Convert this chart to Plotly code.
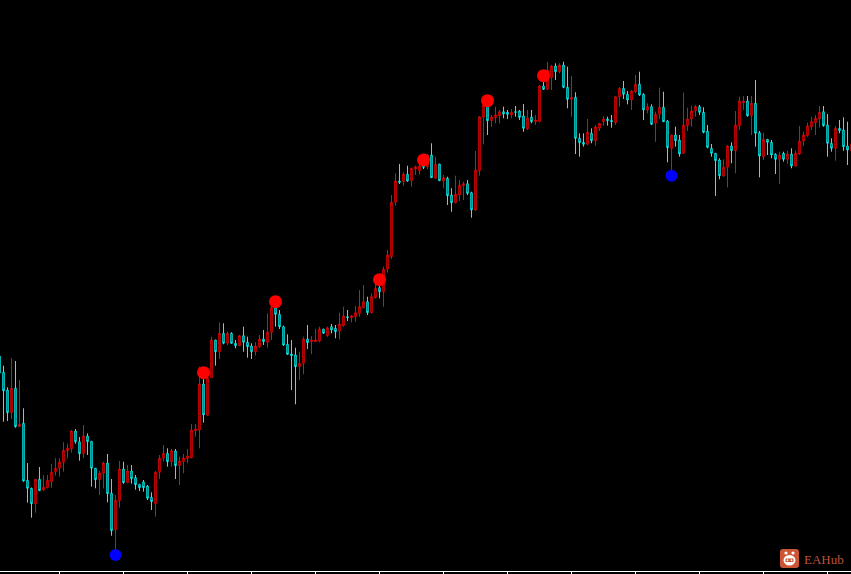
import plotly.graph_objects as go

# bar index (one candle every bar)
bars = list(range(-1, 213))

opens = [218, 201.7, 184, 161.3, 185.7, 147.3, 150.7, 93.7, 85.7, 70.3, 94.7, 84, 86.3, 92.3, 102.3, 105.7, 111.7, 123.3, 125.3, 143, 132.3,
         120.3, 138, 132.7, 105.7, 94.3, 100.7, 111, 80.7, 44.3, 73.3, 105, 91.3, 103, 96.3, 89.7, 92, 88, 76.7, 70.3, 101.7,
         115.7, 120.7, 112.3, 123, 108.3, 112.3, 115.7, 116.3, 143.3, 144, 190, 158.7, 196.3, 234, 222.3, 240.7, 230.7, 240.7, 230.7, 228.3,
         238.3, 231.7, 228, 222.3, 227.3, 235, 231.7, 241.7, 266.3, 259.7, 247.3, 229.7, 220, 219, 207.3, 210.7, 235, 232.3, 232.3, 233,
         245, 238.3, 247.3, 245.7, 243, 248.3, 257.3, 256.3, 257.3, 260.7, 266.3, 272.3, 261.3, 276.3, 286.3, 282.3, 305, 317.3, 371.7, 393,
         392.3, 399.7, 393.3, 405, 403.3, 409, 407.3, 419, 395.7, 410, 393, 395.7, 379, 371.3, 379, 388.3, 390.3, 381.3, 364, 403.3,
         456.7, 469, 453.3, 456.3, 458.3, 462.3, 461.7, 459, 462.3, 463, 458, 445, 457, 452.3, 452.3, 488, 484.7, 496.3, 508, 502.3,
         509, 486.7, 474.7, 476.7, 435.7, 431.7, 429.7, 440.7, 433.3, 445.7, 452.3, 455, 453.7, 451.3, 477.3, 485.7, 479.7, 474, 482.3, 489.7,
         479.7, 464, 467.3, 450.7, 459.7, 466.7, 453, 425.7, 439, 434, 420.7, 448.3, 455, 463, 467.3, 461.7, 443, 425.7, 420.7, 414,
         398, 406.7, 428, 423.3, 448.3, 471.3, 473, 458.3, 470.7, 441.3, 417.3, 434.7, 431.7, 419.7, 414.7, 420.7, 414.7, 420, 408, 420,
         433, 438.3, 447.3, 451.3, 455, 462.3, 449, 430.7, 425.7, 445.7, 444, 428, 423.3]

highs = [220, 208.3, 186.7, 215.7, 213, 194, 165.7, 111, 86.3, 94.7, 107, 99, 99, 110, 115.7, 115.7, 131.7, 130.3, 144, 145, 137,
         149, 140.7, 132.7, 105.7, 103, 112.3, 120, 95, 79, 113, 112.3, 109, 109, 99, 89.7, 94, 89, 81.7, 103, 119,
         129, 125.7, 125, 125, 117.3, 120, 125, 150, 150, 207.3, 195, 196.3, 237.3, 234, 251.7, 250.7, 242.3, 241.7, 234, 239,
         247.3, 237.3, 230.7, 231.7, 239, 244, 260.7, 270.7, 270.7, 264, 248.3, 239.7, 234, 226.3, 222.3, 237.3, 249, 238, 245, 247.3,
         245, 247.3, 250, 249, 261.3, 267.3, 264, 259, 268, 284, 289, 277.3, 280.7, 289.7, 289, 307.3, 324, 379, 400.7, 410,
         401.7, 408.3, 406.3, 408.3, 410, 412, 420, 430.7, 417.3, 410, 399, 397.3, 385.7, 398.3, 394, 392.3, 394, 382.3, 423, 457.3,
         469, 469, 459, 467.3, 464, 467.3, 464, 465, 468, 464, 470, 464, 464, 459, 489, 498.3, 512.3, 509, 510.7, 510.7,
         512.3, 507.3, 498, 481.7, 440.7, 440.7, 455, 445.7, 449, 450.7, 458, 457.3, 459, 477.3, 486.7, 493, 483, 484, 499, 502.3,
         480.7, 470.7, 469.7, 462.3, 486.3, 482.3, 454, 439, 447.3, 439, 481.3, 466.3, 468.3, 469, 469, 466.7, 449, 430, 420.7, 415.7,
         414.7, 429, 431.7, 463, 477.3, 478, 478, 478, 494, 443, 441.3, 434.7, 434, 420.7, 422.3, 422.3, 423.3, 425.7, 423.3, 448,
         442.3, 451.3, 457.3, 459, 468, 468, 460, 435.7, 448, 454, 456.7, 452.3, 432]

lows = [200, 152.3, 153, 155, 146.3, 147.3, 92.3, 71.3, 56.3, 61.3, 83.3, 83, 85.7, 86.3, 98.3, 97.3, 102.3, 115.7, 121.3, 130.3, 113.3,
        115.7, 119, 87.3, 85.7, 79, 85.7, 71.7, 38.3, 24, 66.3, 90.3, 91.3, 90.3, 84.3, 83, 82.3, 74, 64, 57.3, 95,
        112.3, 107.3, 107.3, 95, 89, 100.7, 110.7, 115.7, 137.3, 125.7, 151.3, 158.7, 196.3, 208.3, 215, 229.7, 229, 230.7, 225.7, 228.3,
        222.3, 216.3, 215, 218.3, 226.3, 229, 226.3, 234, 247.3, 245, 228, 219, 184, 169.7, 194, 199.7, 225, 220, 232.3, 231.7,
        240.7, 237.3, 240.7, 235.7, 234.7, 247.3, 253, 251.7, 252.3, 257.3, 265.7, 259, 260.7, 275.7, 275.7, 267.3, 301.3, 315, 368.3, 390,
        388.3, 392.3, 387.3, 399, 399.7, 405, 405, 396.3, 395, 393.3, 385.7, 369, 362.3, 370.7, 373, 374, 379, 356.3, 363, 398.3,
        429.7, 439, 447.3, 450.7, 450.7, 455.7, 455, 455.7, 457.3, 454, 442.3, 444, 450.7, 449, 452.3, 484, 484, 484, 494, 500.7,
        485.7, 465.7, 457.3, 420, 417.3, 427.3, 429, 430.7, 428.3, 443, 448.3, 448.3, 446.3, 449, 467.3, 475, 469.7, 464, 480.7, 478,
        454, 460.7, 449, 432.3, 455, 452.3, 411.7, 404, 427.3, 417.3, 420, 443, 447.3, 457.3, 459, 440.7, 425.7, 417.3, 378, 394.7,
        397.3, 386.7, 410.7, 400.7, 444, 464, 457.3, 439, 427.3, 396.7, 414, 419, 415.7, 400, 390, 412.3, 410, 405.7, 407.3, 419,
        428, 437.3, 444, 439, 446.3, 447.3, 417.3, 422.3, 413.3, 440.7, 423.3, 409, 422]

closes = [201, 183.3, 161.3, 185.7, 147.3, 149.7, 93, 85.7, 70.3, 94.7, 83.3, 86.7, 93.7, 101.7, 105.7, 112, 123.7, 125.7, 143, 132.3, 120.3,
          138, 132.3, 105.7, 94.3, 101, 111, 80.3, 43.3, 73.7, 105, 91.3, 103, 95.3, 89.3, 86.3, 86.3, 75.7, 72.3, 101.7, 115.7,
          120.7, 112.3, 123.3, 108.3, 113, 116, 118, 144, 145, 190, 159, 196.3, 234, 222.3, 240.7, 230.7, 240.7, 230.7, 228.3, 238.3,
          231.7, 227.3, 222.3, 228, 235, 232.3, 241.7, 266.3, 259.7, 247.3, 229, 219.7, 218.3, 207.3, 210.7, 235, 231.3, 234, 234, 245,
          240.7, 246.3, 244, 242.3, 250, 258, 256.3, 258.3, 261.3, 267.3, 272.3, 261.3, 277.3, 285.7, 282.3, 305, 319, 371.7, 393, 391.7,
          399.7, 393, 405.7, 407.3, 408, 406.7, 419, 396.3, 409.7, 393.3, 396.3, 378.3, 371.3, 379.7, 389, 390.3, 380.7, 364, 404, 457.3,
          469, 453.3, 457, 459, 462.3, 460, 459.7, 461.7, 461.7, 456.7, 445.7, 456.3, 452.3, 454, 488, 484.7, 504, 508, 502.3, 509,
          486.7, 474.7, 476.7, 435.7, 431.3, 429.7, 441.7, 433.3, 447, 450.7, 455, 453.3, 452.3, 477.3, 485.7, 479.7, 474, 483, 489.7, 479,
          464, 467.3, 449.7, 459.7, 466.7, 452.3, 426.3, 439, 433.3, 420, 449, 455, 463, 467.3, 461.7, 441.7, 426.7, 420.7, 413.3, 398.3,
          406.7, 428, 423.3, 449, 473, 473, 458.3, 470.7, 440.7, 418, 434.7, 431.7, 419, 414.7, 419, 414.7, 420, 408, 420.7, 433,
          439, 448, 452.3, 455.7, 461.7, 448.3, 430.7, 425.7, 445.7, 443.3, 427.3, 424, 430]

# signal dots
up_signal_bars = [50, 68, 94, 105, 121, 135]
up_signal_vals = [201.3, 272.3, 294.3, 414, 473.3, 498.3]
down_signal_bars = [28, 167]
down_signal_vals = [19, 398.3]

tick_bars = list(range(14, 213, 16))

W, H = 851, 574
MB = 3
PH = H - MB

fig = go.Figure()
fig.add_trace(go.Candlestick(
    x=bars, open=opens, high=highs, low=lows, close=closes,
    increasing=dict(line=dict(color="#ff0000", width=1), fillcolor="#000000"),
    decreasing=dict(line=dict(color="#00ffff", width=1), fillcolor="#000000"),
    whiskerwidth=0, hoverinfo="skip", showlegend=False,
))
fig.add_trace(go.Scatter(
    x=up_signal_bars, y=up_signal_vals, mode="markers",
    marker=dict(color="#ff0000", size=13, line=dict(width=0)),
    hoverinfo="skip", showlegend=False,
))
fig.add_trace(go.Scatter(
    x=down_signal_bars, y=down_signal_vals, mode="markers",
    marker=dict(color="#0000ff", size=12, line=dict(width=0)),
    hoverinfo="skip", showlegend=False,
))

xmin = -0.875
xmax = xmin + W / 4.0


def px(xp):
    return xp / W


def py(yp):
    return (PH - yp) / PH


shapes = []
icon = "#cc5535"
# rounded square icon
x0, x1, y0, y1, r = 780, 799, 549, 568, 3
path = (f"M {px(x0 + r)},{py(y0)} L {px(x1 - r)},{py(y0)} Q {px(x1)},{py(y0)} {px(x1)},{py(y0 + r)} "
        f"L {px(x1)},{py(y1 - r)} Q {px(x1)},{py(y1)} {px(x1 - r)},{py(y1)} "
        f"L {px(x0 + r)},{py(y1)} Q {px(x0)},{py(y1)} {px(x0)},{py(y1 - r)} "
        f"L {px(x0)},{py(y0 + r)} Q {px(x0)},{py(y0)} {px(x0 + r)},{py(y0)} Z")
shapes.append(dict(type="path", xref="paper", yref="paper", path=path, fillcolor=icon, line=dict(width=0)))
# robot head
shapes.append(dict(type="circle", xref="paper", yref="paper", x0=px(783.5), x1=px(795.5), y0=py(565.5), y1=py(555),
                   fillcolor="#ffffff", line=dict(width=0)))
for cx in (786, 793):
    shapes.append(dict(type="circle", xref="paper", yref="paper", x0=px(cx - 1.6), x1=px(cx + 1.6), y0=py(554.6), y1=py(551.4),
                       fillcolor="#ffffff", line=dict(width=0)))
shapes.append(dict(type="rect", xref="paper", yref="paper", x0=px(785.5), x1=px(793.5), y0=py(562), y1=py(558.5),
                   fillcolor=icon, line=dict(width=0)))
for cx in (787.5, 791.5):
    shapes.append(dict(type="circle", xref="paper", yref="paper", x0=px(cx - 0.9), x1=px(cx + 0.9), y0=py(561.2), y1=py(559.3),
                       fillcolor="#ffffff", line=dict(width=0)))

fig.update_layout(
    width=W, height=H,
    margin=dict(l=0, r=0, t=0, b=MB, pad=0),
    paper_bgcolor="#000000", plot_bgcolor="#000000",
    showlegend=False, hovermode=False,
    boxgap=0.5,
    shapes=shapes,
    annotations=[dict(text="EAHub", xref="paper", yref="paper", x=px(823.5), y=py(559),
                      xanchor="center", yanchor="middle", showarrow=False,
                      font=dict(family="Liberation Serif", size=13, color="#c0503a"))],
    xaxis=dict(range=[xmin, xmax], rangeslider=dict(visible=False), showgrid=False, zeroline=False,
               showline=True, linecolor="#ffffff", linewidth=1, ticks="outside", tickvals=tick_bars,
               ticklen=3, tickcolor="#ffffff", tickwidth=1, showticklabels=False, fixedrange=True),
    yaxis=dict(range=[3, 574], visible=False, showgrid=False, zeroline=False, fixedrange=True),
)

fig.write_html(
    "out.html",
    config={"displayModeBar": False, "staticPlot": True},
    post_script="document.body.style.margin='0';document.body.style.padding='0';"
                "document.body.style.background='#000';document.body.style.overflow='hidden';",
)
